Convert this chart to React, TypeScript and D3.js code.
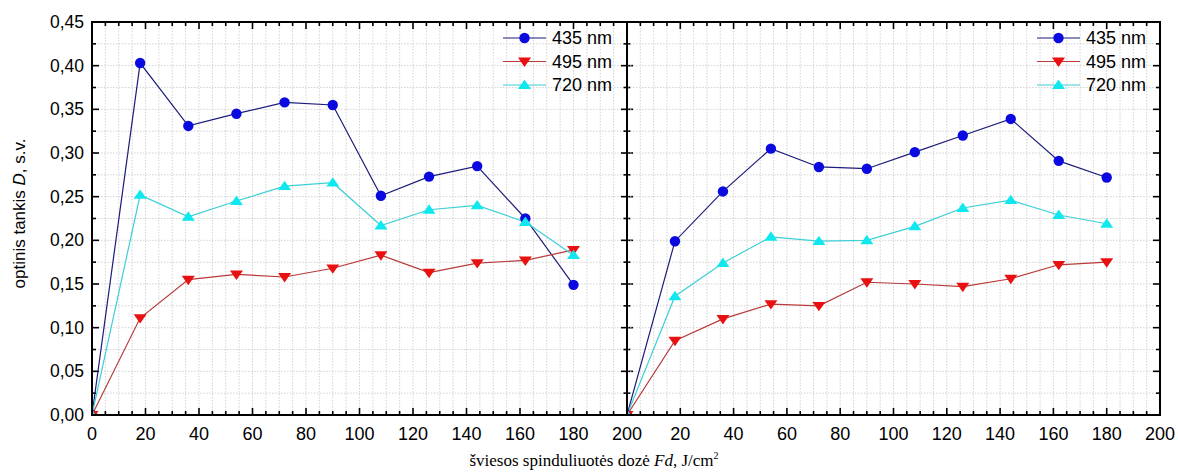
import React from "react";
import * as d3 from "d3";

const xValues = [0, 18, 36, 54, 72, 90, 108, 126, 144, 162, 180];
const left435 = [0, 0.403, 0.331, 0.345, 0.358, 0.355, 0.251, 0.273, 0.285, 0.225, 0.149];
const left495 = [0, 0.111, 0.155, 0.161, 0.158, 0.168, 0.183, 0.163, 0.174, 0.177, 0.189];
const left720 = [0, 0.252, 0.227, 0.245, 0.262, 0.266, 0.217, 0.235, 0.240, 0.221, 0.183];
const right435 = [0, 0.199, 0.256, 0.305, 0.284, 0.282, 0.301, 0.320, 0.339, 0.291, 0.272];
const right495 = [0, 0.085, 0.110, 0.127, 0.125, 0.152, 0.150, 0.147, 0.156, 0.172, 0.175];
const right720 = [0, 0.136, 0.174, 0.204, 0.199, 0.200, 0.216, 0.237, 0.246, 0.229, 0.219];
const seriesNames = ["435 nm", "495 nm", "720 nm"];
const yTicks = [0, 0.05, 0.1, 0.15, 0.2, 0.25, 0.3, 0.35, 0.4, 0.45];
const xTicksLeft = [0, 20, 40, 60, 80, 100, 120, 140, 160, 180, 200];
const xTicksRight = [20, 40, 60, 80, 100, 120, 140, 160, 180, 200];

const styles = [
  { line: "#1c1c7a", fill: "#0a0ae0", marker: "circle" },
  { line: "#b83a3a", fill: "#e81010", marker: "down" },
  { line: "#3ccfd6", fill: "#10e8f0", marker: "up" },
];

const TOP = 22;
const BOTTOM = 415;
const panels = [
  { x0: 92, x1: 627, data: [left435, left495, left720], xTicks: xTicksLeft, legendX: 503 },
  { x0: 627, x1: 1160, data: [right435, right495, right720], xTicks: xTicksRight, legendX: 1037 },
];

const y = d3.scaleLinear().domain([0, 0.45]).range([BOTTOM, TOP]);

function Marker({ kind, cx, cy, fill }: { kind: string; cx: number; cy: number; fill: string }) {
  if (kind === "circle") return <circle cx={cx} cy={cy} r={5.2} fill={fill} />;
  const s = 6.5;
  if (kind === "down")
    return <path d={`M${cx - s},${cy - s * 0.6}L${cx + s},${cy - s * 0.6}L${cx},${cy + s * 0.85}Z`} fill={fill} />;
  return <path d={`M${cx - s},${cy + s * 0.6}L${cx + s},${cy + s * 0.6}L${cx},${cy - s * 0.85}Z`} fill={fill} />;
}

export default function App() {
  const font = "Arial, 'Liberation Sans', sans-serif";
  return (
    <svg width={1178} height={472} style={{ position: "absolute", left: 0, top: 0, background: "#fff" }}>
      <defs>
        {panels.map((p, i) => (
          <clipPath id={`clip${i}`} key={i}>
            <rect x={p.x0} y={TOP} width={p.x1 - p.x0} height={BOTTOM - TOP} />
          </clipPath>
        ))}
      </defs>
      {panels.map((p, pi) => {
        const x = d3.scaleLinear().domain([0, 200]).range([p.x0, p.x1]);
        const gridX = d3.range(5, 200, 5);
        const gridY = d3.range(0.025, 0.45, 0.025);
        const minorX = d3.range(5, 200, 5).filter((v) => v % 20 !== 0);
        const majorX = d3.range(20, 200, 20);
        const minorY = d3.range(0.025, 0.45, 0.05);
        const majorY = d3.range(0.05, 0.449, 0.05);
        const lineGen = d3
          .line<number>()
          .x((_, i) => x(xValues[i]))
          .y((d) => y(d));
        return (
          <g key={pi}>
            {gridX.map((v) => (
              <line key={"gx" + v} x1={x(v)} x2={x(v)} y1={TOP} y2={BOTTOM} stroke="#c8c8c8" strokeWidth={0.8} strokeDasharray="1.5,1.5" />
            ))}
            {gridY.map((v) => (
              <line key={"gy" + v} x1={p.x0} x2={p.x1} y1={y(v)} y2={y(v)} stroke="#c8c8c8" strokeWidth={0.8} strokeDasharray="1.5,1.5" />
            ))}
            {minorX.map((v) => (
              <g key={"mx" + v}>
                <line x1={x(v)} x2={x(v)} y1={BOTTOM} y2={BOTTOM - 4} stroke="#000" strokeWidth={1.6} />
                <line x1={x(v)} x2={x(v)} y1={TOP} y2={TOP + 4} stroke="#000" strokeWidth={1.6} />
              </g>
            ))}
            {majorX.map((v) => (
              <g key={"Mx" + v}>
                <line x1={x(v)} x2={x(v)} y1={BOTTOM} y2={BOTTOM - 7} stroke="#000" strokeWidth={1.6} />
                <line x1={x(v)} x2={x(v)} y1={TOP} y2={TOP + 7} stroke="#000" strokeWidth={1.6} />
              </g>
            ))}
            {pi === 0 &&
              minorY.map((v) => (
                <line key={"lmy" + v} x1={p.x0} x2={p.x0 + 4} y1={y(v)} y2={y(v)} stroke="#000" strokeWidth={1.6} />
              ))}
            {pi === 0 &&
              majorY.map((v) => (
                <line key={"lMy" + v} x1={p.x0} x2={p.x0 + 7} y1={y(v)} y2={y(v)} stroke="#000" strokeWidth={1.6} />
              ))}
            {pi === 0 &&
              minorY.map((v) => (
                <line key={"cmy" + v} x1={p.x1 - 3.5} x2={p.x1 + 3.5} y1={y(v)} y2={y(v)} stroke="#000" strokeWidth={1.6} />
              ))}
            {pi === 0 &&
              majorY.map((v) => (
                <line key={"cMy" + v} x1={p.x1 - 6} x2={p.x1 + 6} y1={y(v)} y2={y(v)} stroke="#000" strokeWidth={1.6} />
              ))}
            {pi === 1 &&
              minorY.map((v) => (
                <line key={"rmy" + v} x1={p.x1} x2={p.x1 - 4} y1={y(v)} y2={y(v)} stroke="#000" strokeWidth={1.6} />
              ))}
            {pi === 1 &&
              majorY.map((v) => (
                <line key={"rMy" + v} x1={p.x1} x2={p.x1 - 7} y1={y(v)} y2={y(v)} stroke="#000" strokeWidth={1.6} />
              ))}
            <g clipPath={`url(#clip${pi})`}>
              {p.data.map((s, si) => (
                <path key={"l" + si} d={lineGen(s) || ""} fill="none" stroke={styles[si].line} strokeWidth={1.2} />
              ))}
              {p.data.map((s, si) =>
                s.map((v, i) => (
                  <Marker key={`m${si}-${i}`} kind={styles[si].marker} cx={x(xValues[i])} cy={y(v)} fill={styles[si].fill} />
                ))
              )}
            </g>
            {seriesNames.map((n, si) => {
              const ly = 38 + si * 23.5;
              return (
                <g key={"lg" + si}>
                  <line x1={p.legendX} x2={p.legendX + 43} y1={ly} y2={ly} stroke={styles[si].line} strokeWidth={1.2} />
                  <Marker kind={styles[si].marker} cx={p.legendX + 21.5} cy={ly} fill={styles[si].fill} />
                  <text x={p.legendX + 49} y={ly + 6} fontFamily={font} fontSize={18} fill="#000">
                    {n}
                  </text>
                </g>
              );
            })}
            {p.xTicks.map((v) => (
              <text key={"xt" + v} x={x(v)} y={440} textAnchor="middle" fontFamily={font} fontSize={18} fill="#000">
                {v}
              </text>
            ))}
            <rect x={p.x0} y={TOP} width={p.x1 - p.x0} height={BOTTOM - TOP} fill="none" stroke="#000" strokeWidth={2} />
          </g>
        );
      })}
      {yTicks.map((v) => (
        <text key={"yt" + v} x={84} y={y(v) + 6} textAnchor="end" fontFamily={font} fontSize={17.5} fill="#000">
          {d3.format(".2f")(v).replace(".", ",")}
        </text>
      ))}
      <text
        transform={`translate(25,${(TOP + BOTTOM) / 2 - 5}) rotate(-90)`}
        textAnchor="middle"
        fontFamily={font}
        fontSize={17}
        fill="#000"
      >
        optinis tankis <tspan fontStyle="italic">D</tspan>, s.v.
      </text>
      <text x={594} y={466} textAnchor="middle" fontFamily="'Liberation Serif', 'Times New Roman', serif" fontSize={17} fill="#000">
        šviesos spinduliuotės dozė <tspan fontStyle="italic">Fd</tspan>, J/cm
        <tspan dy={-7} fontSize={10}>2</tspan>
      </text>
    </svg>
  );
}
